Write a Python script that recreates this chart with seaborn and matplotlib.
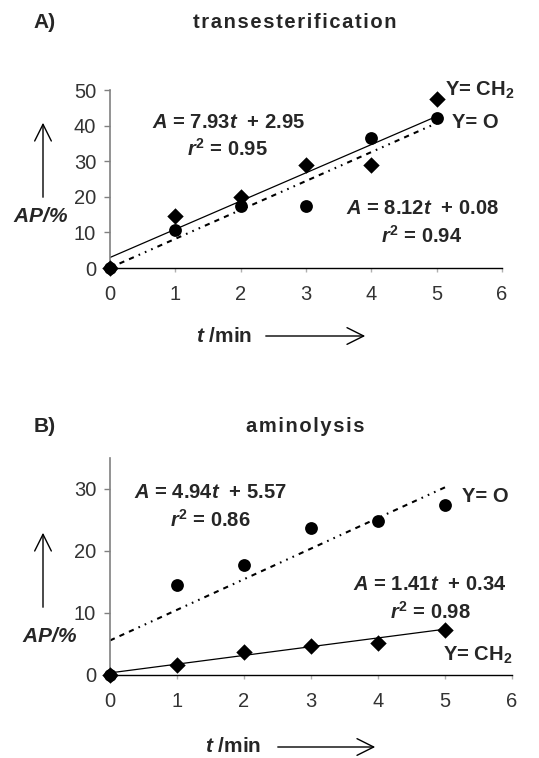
import numpy as np
import pandas as pd
import matplotlib
matplotlib.use("Agg")
import matplotlib.pyplot as plt
import seaborn as sns

# dados
t = [0, 1, 2, 3, 4, 5]

# A) transesterification
trans_ch2 = [0, 14.5, 20.0, 29.0, 29.0, 47.5]
trans_o = [0, 10.6, 17.4, 17.4, 36.5, 42.0]
trans_fit_ch2 = [7.93, 2.95, 0.95]   # slope, intercept, r2
trans_fit_o = [8.12, 0.08, 0.94]

# B) aminolysis
amin_ch2 = [0, 1.6, 3.7, 4.6, 5.2, 7.3]
amin_o = [0, 14.5, 17.7, 23.7, 24.8, 27.5]
amin_fit_ch2 = [1.41, 0.34, 0.98]
amin_fit_o = [4.94, 5.57, 0.86]

sns.set_theme(style="ticks")
plt.rcParams['font.family'] = ['Liberation Sans', 'DejaVu Sans']
plt.rcParams['mathtext.fontset'] = 'custom'
plt.rcParams['mathtext.it'] = 'Liberation Sans:italic:bold'
plt.rcParams['mathtext.rm'] = 'Liberation Sans:bold'
plt.rcParams['mathtext.bf'] = 'Liberation Sans:bold'

W, H = 539, 758
fig = plt.figure(figsize=(W / 100, H / 100), dpi=100)

TXT = 14.5
TICK = 14.5
estilo_o = (0, (2.5, 2.5, 2.5, 2.5, 2.5, 2.5, 0.8, 2.5, 0.8, 2.5, 0.8, 2.5))


def fpos(x, y):
    return x / W, 1 - y / H


def painel(ax, ch2, o, fit_ch2, fit_o, ymax, yticks, ch2_top):
    df = pd.DataFrame({'t': t, 'CH2': ch2, 'O': o})
    tl = np.array([min(t), max(t)])
    sns.lineplot(x=tl, y=fit_ch2[0] * tl + fit_ch2[1], ax=ax, color='black', lw=0.9)
    sns.lineplot(x=tl, y=fit_o[0] * tl + fit_o[1], ax=ax, color='black', lw=1.5,
                 linestyle=estilo_o)
    z1, z2 = (4, 3) if ch2_top else (3, 4)
    sns.scatterplot(data=df, x='t', y='CH2', ax=ax, marker='D', s=70, color='black',
                    edgecolor='black', linewidth=0, zorder=z1)
    sns.scatterplot(data=df, x='t', y='O', ax=ax, marker='o', s=85, color='black',
                    edgecolor='black', linewidth=0, zorder=z2)
    ax.set_xlim(0, 6)
    ax.set_ylim(0, ymax)
    ax.set_xticks(range(7))
    ax.set_yticks(yticks)
    ax.set_xlabel('')
    ax.set_ylabel('')
    for s in ['top', 'right']:
        ax.spines[s].set_visible(False)
    ax.spines['left'].set_color('#808080')
    ax.spines['left'].set_linewidth(1.2)
    ax.spines['bottom'].set_color('black')
    ax.spines['bottom'].set_linewidth(1.0)
    ax.tick_params(axis='y', direction='out', length=4, width=1, color='#808080',
                   labelsize=TICK, labelcolor='#333333', pad=6)
    ax.tick_params(axis='x', direction='out', length=3, width=1, color='#b0b0b0',
                   labelsize=TICK, labelcolor='#333333', pad=9)
    ax.set_facecolor('white')
    for s in ax.spines.values():
        s.set_clip_on(False)
    for c in ax.collections:
        c.set_clip_on(False)


def eq(fit):
    return f"$A$ = {fit[0]:.2f}$t$  + {fit[1]:.2f}", f"$r^{{2}}$ = {fit[2]:.2f}"


def espacado(s):
    return '\u200a'.join(s)


def setas(y_ap, ax_top, ax_bot, y_t, x_t0, x_t1, x_ap):
    fig.text(*fpos(x_ap, y_ap), "$AP$/%", fontsize=15, ha='center', va='center',
             fontstyle='italic', fontweight='bold')
    for a, b in [(fpos(43, ax_bot), fpos(43, ax_top)), (fpos(x_t0, y_t), fpos(x_t1, y_t))]:
        fig.add_artist(matplotlib.patches.FancyArrowPatch(
            a, b, transform=fig.transFigure,
            arrowstyle='->,head_length=8,head_width=4', lw=1.0, color='black',
            mutation_scale=1.5))


def texto(x, y, s, ha='center', size=TXT):
    fig.text(*fpos(x, y), s, fontsize=size, fontweight='bold', ha=ha, va='center')


# ---- painel A ----
axA = fig.add_axes([110 / W, 1 - 268 / H, 392 / W, 178 / H])
painel(axA, trans_ch2, trans_o, trans_fit_ch2, trans_fit_o, 50, [0, 10, 20, 30, 40, 50], False)
texto(45, 23, "A)", size=15)
texto(295, 23, espacado("transesterification"), size=14.5)
e1, r1 = eq(trans_fit_ch2)
e2, r2 = eq(trans_fit_o)
texto(228, 123, e1)
texto(227, 149, r1)
texto(422, 208, e2)
texto(422, 236, r2)
texto(445, 90, "Y= CH$_2$", ha='left')
texto(452, 122, "Y= O", ha='left')
setas(217, 120, 200, 336, 263, 368, 41)
texto(224, 336, "$t$ /min", size=15)

# ---- painel B ----
axB = fig.add_axes([110 / W, 1 - 675 / H, 402 / W, 217 / H])
painel(axB, amin_ch2, amin_o, amin_fit_ch2, amin_fit_o, 35, [0, 10, 20, 30], True)
texto(45, 427, "B)", size=15)
texto(305, 427, espacado("aminolysis"), size=14.5)
e3, r3 = eq(amin_fit_o)
e4, r4 = eq(amin_fit_ch2)
texto(210, 493, e3)
texto(210, 520, r3)
texto(430, 585, e4)
texto(430, 612, r4)
texto(462, 497, "Y= O", ha='left')
texto(443, 655, "Y= CH$_2$", ha='left')
setas(637, 530, 610, 747, 275, 378, 50)
texto(233, 747, "$t$ /min", size=15)

fig.savefig("out.png", dpi=100, facecolor='white')
